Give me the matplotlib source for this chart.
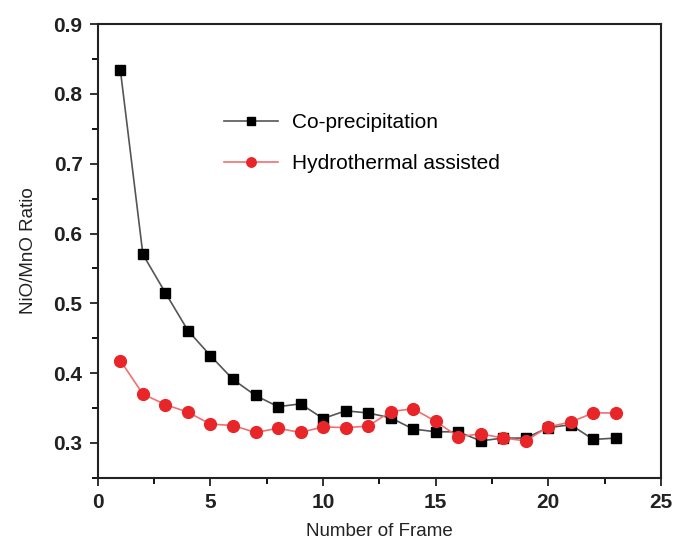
import matplotlib
matplotlib.use('Agg')
import matplotlib.pyplot as plt
from matplotlib.ticker import MultipleLocator

plt.rcParams['font.family'] = ['Liberation Sans', 'DejaVu Sans']

frames = list(range(1, 24))
co_precip = [0.834, 0.570, 0.515, 0.461, 0.425, 0.391, 0.368, 0.352, 0.356, 0.335,
             0.346, 0.343, 0.336, 0.320, 0.316, 0.316, 0.303, 0.307, 0.307, 0.322,
             0.326, 0.305, 0.307]
hydro = [0.418, 0.370, 0.355, 0.344, 0.327, 0.325, 0.315, 0.321, 0.315, 0.323,
         0.322, 0.324, 0.345, 0.349, 0.331, 0.309, 0.313, 0.307, 0.303, 0.323,
         0.330, 0.343, 0.343]

fig = plt.figure(figsize=(6.75, 5.48), dpi=100)
ax = fig.add_axes([0.145, 0.128, 0.834, 0.828])

ax.plot(frames, co_precip, color='#555555', lw=1.2, marker='s', ms=7.5,
        mfc='black', mec='black', label='Co-precipitation')
ax.plot(frames, hydro, color='#f07070', lw=1.2, marker='o', ms=8.5,
        mfc='#e8262a', mec='#e8262a', label='Hydrothermal assisted')

ax.set_xlim(0, 25)
ax.set_ylim(0.25, 0.9)
ax.xaxis.set_major_locator(MultipleLocator(5))
ax.xaxis.set_minor_locator(MultipleLocator(2.5))
ax.yaxis.set_major_locator(MultipleLocator(0.1))
ax.yaxis.set_minor_locator(MultipleLocator(0.05))
ax.yaxis.set_major_formatter(plt.FuncFormatter(lambda v, p: f'{v:.1f}'))
ax.tick_params(which='major', direction='out', length=6, width=1.3,
               labelsize=15, colors='#222222', pad=5)
ax.tick_params(which='minor', direction='out', length=4, width=1.3)
for lab in ax.get_xticklabels() + ax.get_yticklabels():
    lab.set_fontweight('semibold')
for sp in ax.spines.values():
    sp.set_linewidth(1.5)
    sp.set_color('#222222')

ax.set_xlabel('Number of Frame', fontsize=13.5, color='#222222', labelpad=8)
ax.set_ylabel('NiO/MnO Ratio', fontsize=13.5, color='#222222', labelpad=12)

ax.legend(loc='upper left', bbox_to_anchor=(0.19, 0.845), frameon=False,
          fontsize=15, handlelength=2.6, handletextpad=0.7,
          labelspacing=1.05, markerscale=0.8)

fig.savefig('out.png', dpi=100)
